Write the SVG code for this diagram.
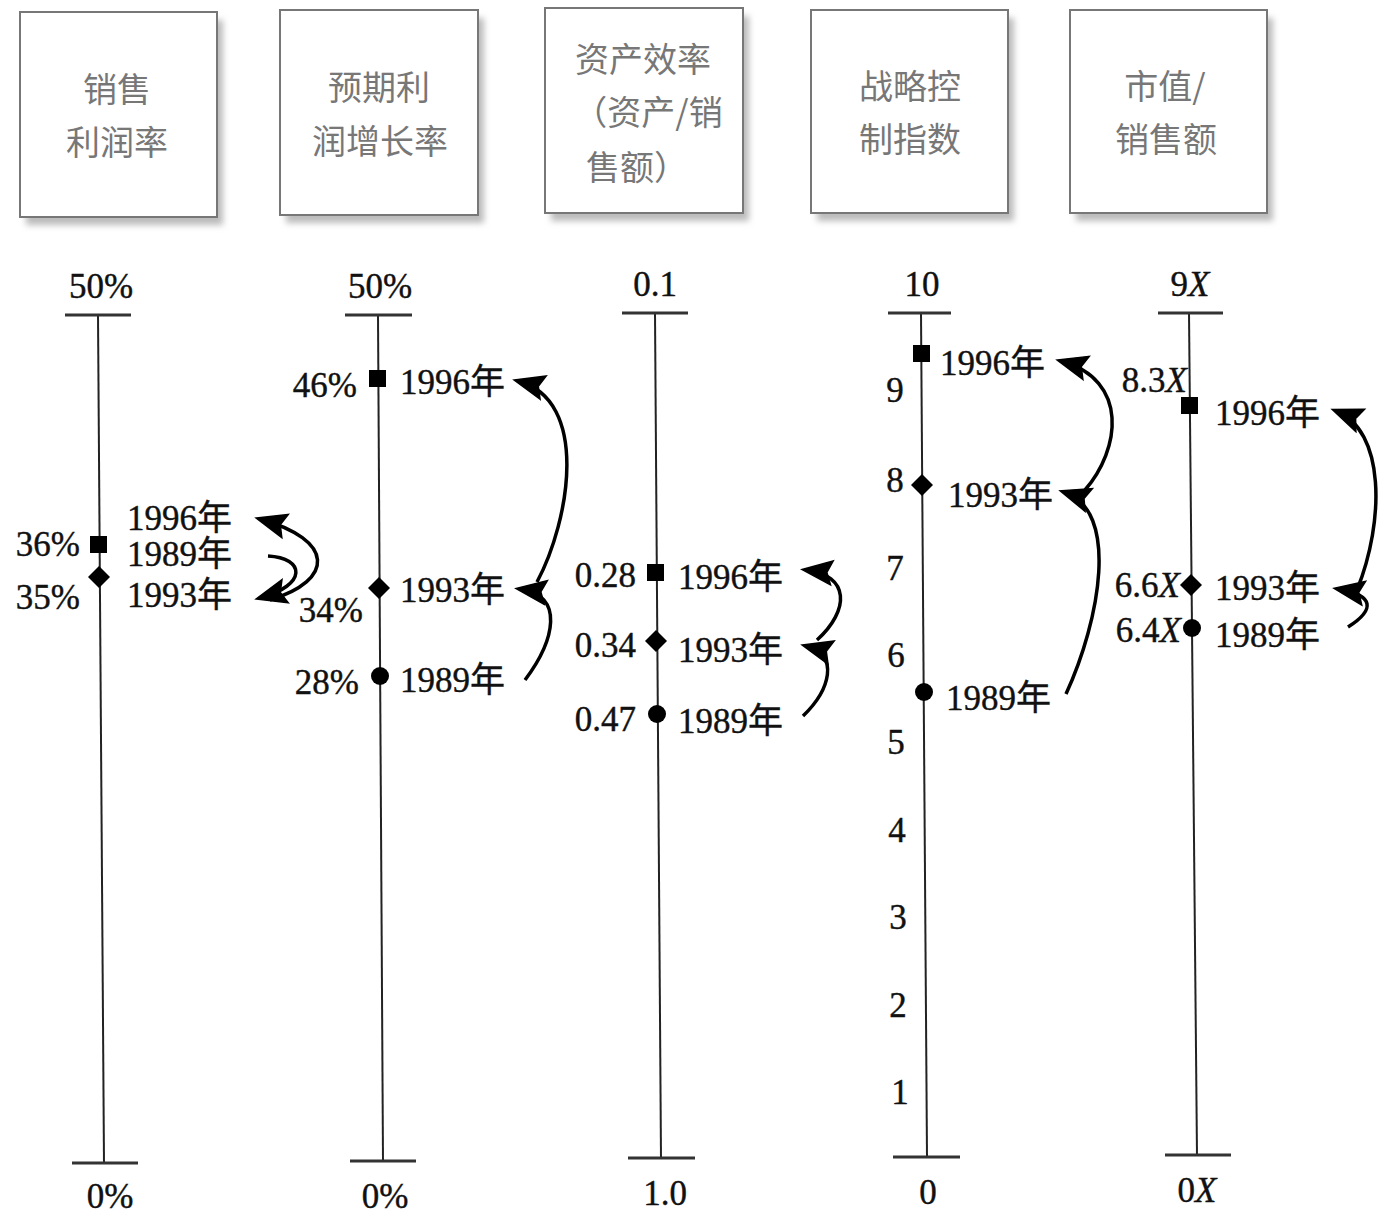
<svg xmlns="http://www.w3.org/2000/svg" width="1392" height="1221" viewBox="0 0 1392 1221">
<style>
.box{fill:#fff;stroke:#777;stroke-width:2}
.shadow{fill:#bbb;filter:url(#blur)}
.bt{font-family:"Noto Sans CJK SC","Noto Sans",sans-serif;font-size:34px;fill:#777;text-anchor:middle}
.t{font-family:"Liberation Serif","Noto Sans CJK SC",serif;font-size:35px;fill:#111;stroke:#111;stroke-width:0.4}
.m{text-anchor:middle}
.e{text-anchor:end}
.axis{stroke:#222;stroke-width:2;fill:none}
.tick{stroke:#333;stroke-width:3;fill:none}
.arr{stroke:#000;stroke-width:3.5;fill:none;marker-end:url(#ah)}
.pt{fill:#000}
</style>
<defs>
<filter id="blur" x="-10%" y="-10%" width="120%" height="120%"><feGaussianBlur stdDeviation="3"/></filter>
<marker id="ah" markerUnits="userSpaceOnUse" viewBox="0 0 30 26" refX="26" refY="13" markerWidth="30" markerHeight="26" orient="auto" overflow="visible">
<path d="M0,1 L30,13 L0,25 L5,13 Z" fill="#000" stroke="#000" stroke-width="1.5" stroke-linejoin="miter"/>
</marker>
</defs>

<g id="box1">
<rect class="shadow" x="26" y="20" width="197" height="205"/>
<rect class="box" x="20" y="12" width="197" height="205"/>
<text class="bt" x="117" y="102">销售</text>
<text class="bt" x="117" y="155">利润率</text>
</g>
<g id="box2">
<rect class="shadow" x="286" y="18" width="198" height="205"/>
<rect class="box" x="280" y="10" width="198" height="205"/>
<text class="bt" x="379" y="100">预期利</text>
<text class="bt" x="380" y="154">润增长率</text>
</g>
<g id="box3">
<rect class="shadow" x="551" y="16" width="198" height="205"/>
<rect class="box" x="545" y="8" width="198" height="205"/>
<text class="bt" x="643" y="72">资产效率</text>
<text class="bt" x="648" y="125">（资产/销</text>
<text class="bt" x="637" y="180">售额）</text>
</g>
<g id="box4">
<rect class="shadow" x="817" y="18" width="197" height="203"/>
<rect class="box" x="811" y="10" width="197" height="203"/>
<text class="bt" x="910" y="99">战略控</text>
<text class="bt" x="910" y="152">制指数</text>
</g>
<g id="box5">
<rect class="shadow" x="1076" y="18" width="197" height="203"/>
<rect class="box" x="1070" y="10" width="197" height="203"/>
<text class="bt" x="1165" y="99">市值/</text>
<text class="bt" x="1166" y="152">销售额</text>
</g>

<g id="axis1">
<line class="axis" x1="98" y1="315" x2="104" y2="1163"/>
<line class="tick" x1="65" y1="315" x2="131" y2="315"/>
<line class="tick" x1="72" y1="1163" x2="138" y2="1163"/>
<text class="t m" x="101" y="298">50%</text>
<text class="t m" x="110" y="1208">0%</text>
<rect class="pt" x="90" y="536" width="17" height="17"/>
<path class="pt" d="M99,566 L110,577 L99,588 L88,577 Z"/>
<text class="t e" x="80" y="556">36%</text>
<text class="t e" x="80" y="609">35%</text>
<text class="t" x="127" y="530">1996年</text>
<text class="t" x="127" y="566">1989年</text>
<text class="t" x="127" y="607">1993年</text>
</g>

<g id="axis2">
<line class="axis" x1="378" y1="315" x2="383" y2="1161"/>
<line class="tick" x1="345" y1="315" x2="412" y2="315"/>
<line class="tick" x1="350" y1="1161" x2="416" y2="1161"/>
<text class="t m" x="380" y="298">50%</text>
<text class="t m" x="385" y="1208">0%</text>
<rect class="pt" x="369" y="370" width="17" height="17"/>
<path class="pt" d="M379,577 L390,588 L379,599 L368,588 Z"/>
<circle class="pt" cx="380" cy="676" r="9"/>
<text class="t e" x="357" y="397">46%</text>
<text class="t" x="400" y="394">1996年</text>
<text class="t" x="400" y="602">1993年</text>
<text class="t e" x="363" y="622">34%</text>
<text class="t e" x="359" y="694">28%</text>
<text class="t" x="400" y="692">1989年</text>
</g>

<g id="axis3">
<line class="axis" x1="655" y1="313" x2="661" y2="1158"/>
<line class="tick" x1="622" y1="313" x2="688" y2="313"/>
<line class="tick" x1="628" y1="1158" x2="695" y2="1158"/>
<text class="t m" x="655" y="296">0.1</text>
<text class="t m" x="665" y="1205">1.0</text>
<rect class="pt" x="647" y="564" width="17" height="17"/>
<path class="pt" d="M656,630 L667,641 L656,652 L645,641 Z"/>
<circle class="pt" cx="657" cy="714" r="9"/>
<text class="t e" x="636" y="587">0.28</text>
<text class="t" x="678" y="589">1996年</text>
<text class="t e" x="636" y="657">0.34</text>
<text class="t" x="678" y="662">1993年</text>
<text class="t e" x="636" y="731">0.47</text>
<text class="t" x="678" y="733">1989年</text>
</g>

<g id="axis4">
<line class="axis" x1="921" y1="313" x2="927" y2="1157"/>
<line class="tick" x1="888" y1="313" x2="951" y2="313"/>
<line class="tick" x1="893" y1="1157" x2="960" y2="1157"/>
<text class="t m" x="922" y="296">10</text>
<text class="t m" x="928" y="1204">0</text>
<text class="t m" x="895" y="402">9</text>
<text class="t m" x="895" y="492">8</text>
<text class="t m" x="895" y="580">7</text>
<text class="t m" x="896" y="667">6</text>
<text class="t m" x="896" y="754">5</text>
<text class="t m" x="897" y="842">4</text>
<text class="t m" x="898" y="929">3</text>
<text class="t m" x="898" y="1017">2</text>
<text class="t m" x="900" y="1104">1</text>
<rect class="pt" x="913" y="345" width="17" height="17"/>
<path class="pt" d="M922,474 L933,485 L922,496 L911,485 Z"/>
<circle class="pt" cx="924" cy="692" r="9"/>
<text class="t" x="940" y="375">1996年</text>
<text class="t" x="948" y="507">1993年</text>
<text class="t" x="946" y="710">1989年</text>
</g>

<g id="axis5">
<line class="axis" x1="1189" y1="313" x2="1197" y2="1155"/>
<line class="tick" x1="1158" y1="313" x2="1223" y2="313"/>
<line class="tick" x1="1165" y1="1155" x2="1231" y2="1155"/>
<text class="t m" x="1190" y="296">9<tspan font-style="italic">X</tspan></text>
<text class="t m" x="1197" y="1202">0<tspan font-style="italic">X</tspan></text>
<rect class="pt" x="1181" y="397" width="17" height="17"/>
<path class="pt" d="M1191,574 L1202,585 L1191,596 L1180,585 Z"/>
<circle class="pt" cx="1192" cy="628" r="9"/>
<text class="t e" x="1187" y="392">8.3<tspan font-style="italic">X</tspan></text>
<text class="t" x="1215" y="425">1996年</text>
<text class="t e" x="1180" y="597">6.6<tspan font-style="italic">X</tspan></text>
<text class="t" x="1215" y="600">1993年</text>
<text class="t e" x="1181" y="642">6.4<tspan font-style="italic">X</tspan></text>
<text class="t" x="1215" y="647">1989年</text>
</g>

<g id="connectors">
<path class="arr" d="M270,600 C335,580 335,540 260,519"/>
<path class="arr" d="M268,556 C305,558 308,585 260,598"/>
<path class="arr" d="M537,582 C570,520 590,400 518,381"/>
<path class="arr" d="M525,680 C555,640 565,595 520,589"/>
<path class="arr" d="M817,640 C850,610 850,575 806,570"/>
<path class="arr" d="M803,716 C830,690 840,655 806,646"/>
<path class="arr" d="M1085,490 C1120,450 1130,380 1061,361"/>
<path class="arr" d="M1066,694 C1100,620 1120,510 1064,492"/>
<path class="arr" d="M1357,590 C1385,520 1385,430 1336,411"/>
<path class="arr" d="M1348,627 C1375,610 1375,595 1338,589"/>
</g>
</svg>
